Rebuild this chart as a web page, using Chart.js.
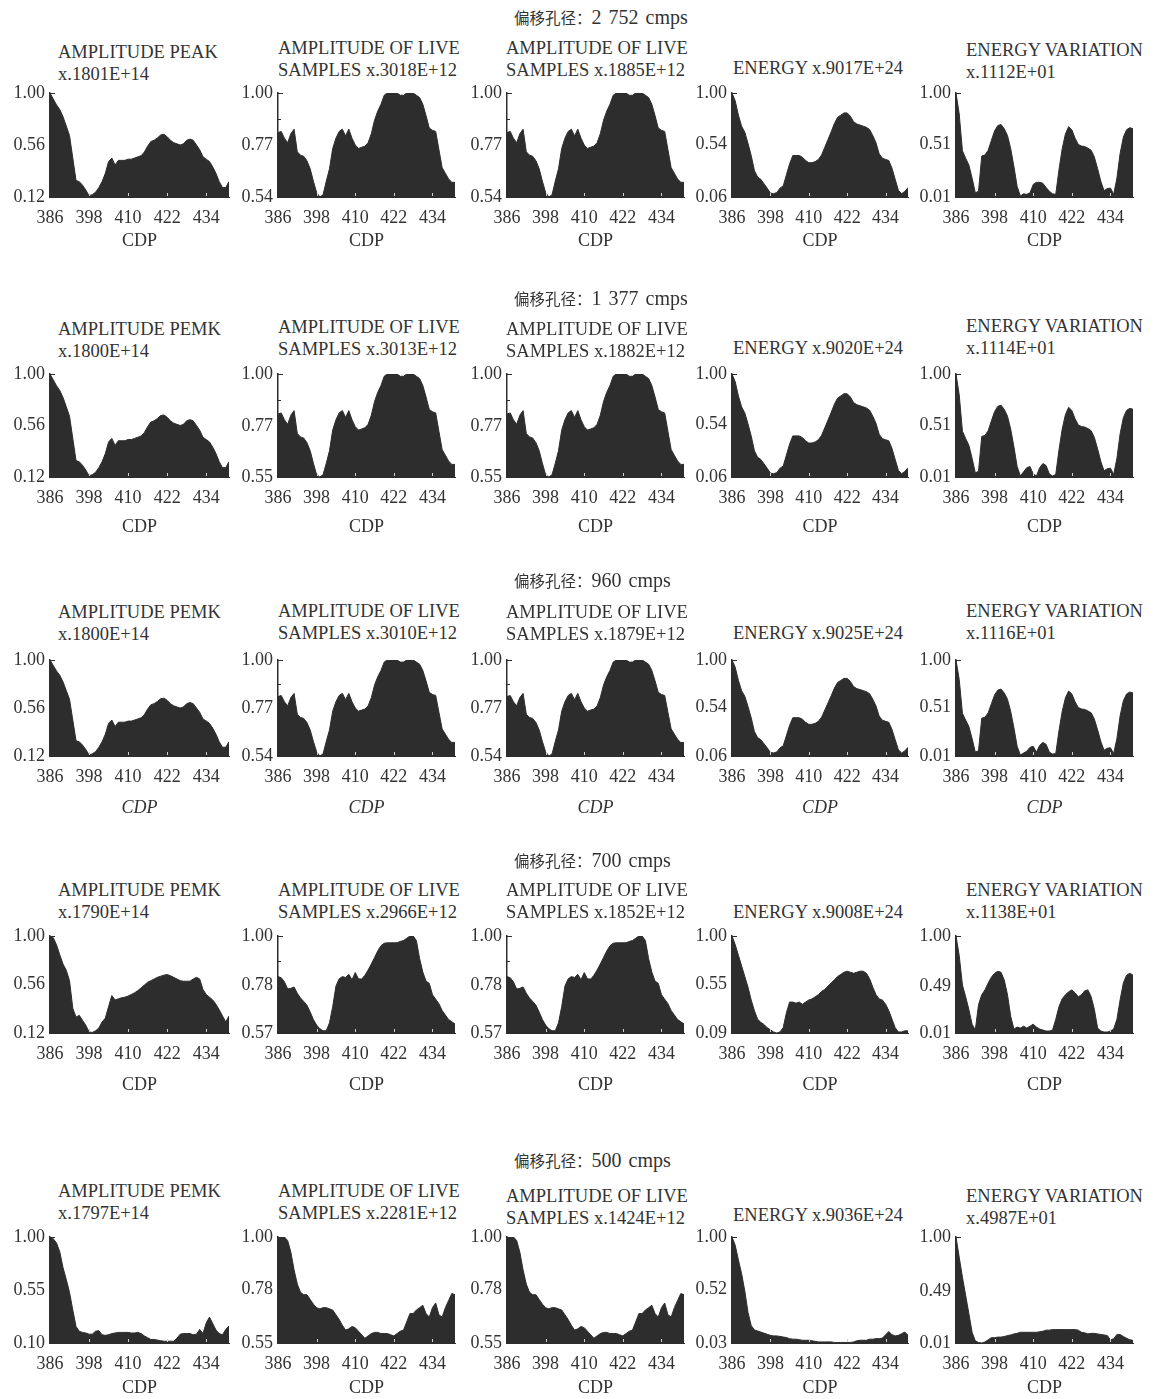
<!DOCTYPE html>
<html>
<head>
<meta charset="utf-8">
<script src="https://cdn.jsdelivr.net/npm/chart.js@4/dist/chart.umd.min.js"></script>
<style>
  html, body { margin: 0; padding: 0; background: #fff; }
  body { width: 1160px; height: 1399px; position: relative; overflow: hidden;
         font-family: "Liberation Serif", "Noto Sans CJK SC", serif; color: #333; }
  .ttl { position: absolute; font-size: 18.5px; line-height: 22px; white-space: pre; }
  .head { position: absolute; font-size: 20px; line-height: 20px; word-spacing: 2px; white-space: pre; }
  .head .cjk { font-family: "Noto Sans CJK SC", sans-serif; font-size: 15.5px; word-spacing: 0; }
  canvas { position: absolute; }
</style>
</head>
<body>
<script>
// CDP positions shared by every panel
const cdp = [386,387,388,389,390,391,392,393,394,395,396,397,398,399,400,401,402,403,404,405,
             406,407,408,409,410,411,412,413,414,415,416,417,418,419,420,421,422,423,424,425,
             426,427,428,429,430,431,432,433,434,435,436,437,438,439,440,441];
const cdpTicks = [386, 398, 410, 422, 434];

// Offset aperture of each row
const rowLabel = '偏移孔径：';
const rowApertures = ['2 752 cmps', '1 377 cmps', '960 cmps', '700 cmps', '500 cmps'];

// Panel titles per row
const titles1 = ['AMPLITUDE PEAK\nx.1801E+14', 'AMPLITUDE OF LIVE\nSAMPLES x.3018E+12', 'AMPLITUDE OF LIVE\nSAMPLES x.1885E+12', 'ENERGY x.9017E+24', 'ENERGY VARIATION\nx.1112E+01'];
const titles2 = ['AMPLITUDE PEMK\nx.1800E+14', 'AMPLITUDE OF LIVE\nSAMPLES x.3013E+12', 'AMPLITUDE OF LIVE\nSAMPLES x.1882E+12', 'ENERGY x.9020E+24', 'ENERGY VARIATION\nx.1114E+01'];
const titles3 = ['AMPLITUDE PEMK\nx.1800E+14', 'AMPLITUDE OF LIVE\nSAMPLES x.3010E+12', 'AMPLITUDE OF LIVE\nSAMPLES x.1879E+12', 'ENERGY x.9025E+24', 'ENERGY VARIATION\nx.1116E+01'];
const titles4 = ['AMPLITUDE PEMK\nx.1790E+14', 'AMPLITUDE OF LIVE\nSAMPLES x.2966E+12', 'AMPLITUDE OF LIVE\nSAMPLES x.1852E+12', 'ENERGY x.9008E+24', 'ENERGY VARIATION\nx.1138E+01'];
const titles5 = ['AMPLITUDE PEMK\nx.1797E+14', 'AMPLITUDE OF LIVE\nSAMPLES x.2281E+12', 'AMPLITUDE OF LIVE\nSAMPLES x.1424E+12', 'ENERGY x.9036E+24', 'ENERGY VARIATION\nx.4987E+01'];

// Normalised axis labels (min, mid, max) per panel
const yTicks1 = [['0.12','0.56','1.00'], ['0.54','0.77','1.00'], ['0.54','0.77','1.00'], ['0.06','0.54','1.00'], ['0.01','0.51','1.00']];
const yTicks2 = [['0.12','0.56','1.00'], ['0.55','0.77','1.00'], ['0.55','0.77','1.00'], ['0.06','0.54','1.00'], ['0.01','0.51','1.00']];
const yTicks3 = [['0.12','0.56','1.00'], ['0.54','0.77','1.00'], ['0.54','0.77','1.00'], ['0.06','0.54','1.00'], ['0.01','0.51','1.00']];
const yTicks4 = [['0.12','0.56','1.00'], ['0.57','0.78','1.00'], ['0.57','0.78','1.00'], ['0.09','0.55','1.00'], ['0.01','0.49','1.00']];
const yTicks5 = [['0.10','0.55','1.00'], ['0.55','0.78','1.00'], ['0.55','0.78','1.00'], ['0.03','0.52','1.00'], ['0.01','0.49','1.00']];

// ---- 2 752 cmps ----
const peak1 = [1.00,0.95,0.90,0.86,0.80,0.72,0.64,0.45,0.26,0.25, 0.22,0.18,0.13,0.14,0.16,0.20,0.25,0.32,0.42,0.45,
               0.39,0.43,0.43,0.43,0.44,0.44,0.45,0.46,0.47,0.50, 0.55,0.59,0.60,0.62,0.645,0.65,0.63,0.60,0.58,0.57,
               0.56,0.57,0.60,0.61,0.60,0.56,0.52,0.46,0.44,0.42, 0.375,0.32,0.25,0.20,0.20,0.25];
const liveA1 = [0.825,0.83,0.80,0.78,0.82,0.84,0.74,0.725,0.72,0.70, 0.665,0.61,0.56,0.54,0.55,0.61,0.665,0.755,0.80,0.83,
                0.84,0.81,0.84,0.80,0.77,0.755,0.76,0.765,0.78,0.82, 0.88,0.92,0.95,0.99,1.00,1.00,1.00,1.00,0.99,0.99,
                1.00,1.00,1.00,0.99,0.98,0.95,0.90,0.845,0.835,0.83, 0.75,0.67,0.645,0.62,0.605,0.605];
const liveB1 = [0.825,0.83,0.80,0.78,0.82,0.84,0.74,0.725,0.72,0.70, 0.665,0.61,0.56,0.54,0.55,0.61,0.665,0.755,0.80,0.83,
                0.84,0.81,0.84,0.80,0.77,0.755,0.76,0.765,0.78,0.82, 0.88,0.92,0.95,0.99,1.00,1.00,1.00,1.00,0.99,0.99,
                1.00,1.00,1.00,0.99,0.98,0.95,0.90,0.845,0.835,0.83, 0.75,0.67,0.645,0.62,0.605,0.605];
const energy1 = [1.00,0.93,0.80,0.70,0.645,0.545,0.435,0.30,0.24,0.22, 0.18,0.14,0.095,0.09,0.10,0.14,0.16,0.26,0.36,0.435,
                 0.435,0.435,0.42,0.39,0.37,0.37,0.38,0.40,0.44,0.51, 0.58,0.65,0.725,0.78,0.80,0.82,0.82,0.79,0.74,0.72,
                 0.71,0.70,0.69,0.67,0.615,0.55,0.45,0.41,0.40,0.39, 0.32,0.22,0.12,0.09,0.11,0.145];
const vary1 = [1.00,0.80,0.45,0.38,0.315,0.19,0.05,0.065,0.40,0.41, 0.455,0.55,0.64,0.69,0.70,0.66,0.595,0.47,0.30,0.11,
               0.02,0.04,0.035,0.05,0.13,0.15,0.15,0.14,0.10,0.065, 0.04,0.035,0.27,0.47,0.61,0.68,0.65,0.57,0.51,0.495,
               0.49,0.475,0.455,0.39,0.28,0.16,0.07,0.09,0.095,0.035, 0.19,0.425,0.58,0.65,0.67,0.66];

// ---- 1 377 cmps ----
const peak2 = [1.00,0.95,0.90,0.86,0.80,0.72,0.64,0.45,0.26,0.25, 0.22,0.18,0.13,0.14,0.16,0.20,0.25,0.32,0.42,0.45,
               0.39,0.43,0.43,0.43,0.44,0.44,0.45,0.46,0.47,0.50, 0.55,0.59,0.60,0.62,0.645,0.65,0.63,0.60,0.58,0.57,
               0.56,0.57,0.60,0.61,0.60,0.56,0.52,0.46,0.44,0.42, 0.375,0.32,0.25,0.20,0.20,0.25];
const liveA2 = [0.825,0.83,0.80,0.78,0.82,0.84,0.74,0.725,0.72,0.70, 0.665,0.61,0.56,0.55,0.56,0.61,0.665,0.755,0.80,0.83,
                0.84,0.81,0.84,0.80,0.77,0.755,0.76,0.765,0.78,0.82, 0.88,0.92,0.95,0.99,1.00,1.00,1.00,1.00,0.99,0.99,
                1.00,1.00,1.00,0.99,0.98,0.95,0.90,0.845,0.835,0.83, 0.75,0.67,0.645,0.62,0.605,0.605];
const liveB2 = [0.825,0.83,0.80,0.78,0.82,0.84,0.74,0.725,0.72,0.70, 0.665,0.61,0.56,0.55,0.56,0.61,0.665,0.755,0.80,0.83,
                0.84,0.81,0.84,0.80,0.77,0.755,0.76,0.765,0.78,0.82, 0.88,0.92,0.95,0.99,1.00,1.00,1.00,1.00,0.99,0.99,
                1.00,1.00,1.00,0.99,0.98,0.95,0.90,0.845,0.835,0.83, 0.75,0.67,0.645,0.62,0.605,0.605];
const energy2 = [1.00,0.93,0.80,0.70,0.645,0.545,0.435,0.30,0.24,0.22, 0.18,0.14,0.095,0.09,0.10,0.14,0.16,0.26,0.36,0.435,
                 0.435,0.435,0.42,0.39,0.37,0.37,0.38,0.40,0.44,0.51, 0.58,0.65,0.725,0.78,0.80,0.82,0.82,0.79,0.74,0.72,
                 0.71,0.70,0.69,0.67,0.615,0.55,0.45,0.41,0.40,0.39, 0.32,0.22,0.12,0.09,0.11,0.145];
const vary2 = [1.00,0.80,0.45,0.38,0.315,0.19,0.05,0.065,0.40,0.41, 0.455,0.55,0.64,0.69,0.70,0.66,0.595,0.47,0.30,0.11,
               0.02,0.06,0.10,0.11,0.04,0.02,0.10,0.14,0.12,0.04, 0.02,0.035,0.27,0.47,0.61,0.68,0.65,0.57,0.51,0.495,
               0.49,0.475,0.455,0.39,0.28,0.16,0.07,0.09,0.095,0.035, 0.19,0.425,0.58,0.65,0.67,0.66];

// ---- 960 cmps ----
const peak3 = [1.00,0.95,0.90,0.86,0.80,0.72,0.64,0.45,0.26,0.25, 0.22,0.18,0.13,0.14,0.16,0.20,0.25,0.32,0.42,0.45,
               0.39,0.43,0.43,0.43,0.44,0.44,0.45,0.46,0.47,0.50, 0.55,0.59,0.60,0.62,0.645,0.65,0.63,0.60,0.58,0.57,
               0.56,0.57,0.60,0.61,0.60,0.56,0.52,0.46,0.44,0.42, 0.375,0.32,0.25,0.20,0.20,0.25];
const liveA3 = [0.825,0.83,0.80,0.78,0.82,0.84,0.74,0.725,0.72,0.70, 0.665,0.61,0.56,0.54,0.55,0.61,0.665,0.755,0.80,0.83,
                0.84,0.81,0.84,0.80,0.77,0.755,0.76,0.765,0.78,0.82, 0.88,0.92,0.95,0.99,1.00,1.00,1.00,1.00,0.99,0.99,
                1.00,1.00,1.00,0.99,0.98,0.95,0.90,0.845,0.835,0.83, 0.75,0.67,0.645,0.62,0.605,0.605];
const liveB3 = [0.825,0.83,0.80,0.78,0.82,0.84,0.74,0.725,0.72,0.70, 0.665,0.61,0.56,0.54,0.55,0.61,0.665,0.755,0.80,0.83,
                0.84,0.81,0.84,0.80,0.77,0.755,0.76,0.765,0.78,0.82, 0.88,0.92,0.95,0.99,1.00,1.00,1.00,1.00,0.99,0.99,
                1.00,1.00,1.00,0.99,0.98,0.95,0.90,0.845,0.835,0.83, 0.75,0.67,0.645,0.62,0.605,0.605];
const energy3 = [1.00,0.93,0.80,0.70,0.645,0.545,0.435,0.30,0.24,0.22, 0.18,0.14,0.095,0.09,0.10,0.14,0.16,0.26,0.36,0.435,
                 0.435,0.435,0.42,0.39,0.37,0.37,0.38,0.40,0.44,0.51, 0.58,0.65,0.725,0.78,0.80,0.82,0.82,0.79,0.74,0.72,
                 0.71,0.70,0.69,0.67,0.615,0.55,0.45,0.41,0.40,0.39, 0.32,0.22,0.12,0.09,0.11,0.145];
const vary3 = [1.00,0.80,0.45,0.38,0.315,0.19,0.05,0.065,0.40,0.41, 0.455,0.55,0.64,0.69,0.70,0.66,0.595,0.47,0.30,0.11,
               0.02,0.04,0.06,0.10,0.11,0.05,0.12,0.15,0.13,0.05, 0.03,0.035,0.27,0.47,0.61,0.68,0.65,0.57,0.51,0.495,
               0.49,0.475,0.455,0.39,0.28,0.16,0.07,0.09,0.095,0.035, 0.19,0.425,0.58,0.65,0.67,0.66];

// ---- 700 cmps ----
const peak4 = [1.00,0.985,0.92,0.83,0.745,0.69,0.595,0.345,0.265,0.28, 0.235,0.19,0.13,0.125,0.14,0.165,0.22,0.255,0.36,0.46,
               0.42,0.43,0.44,0.445,0.455,0.47,0.485,0.505,0.53,0.555, 0.58,0.595,0.61,0.625,0.635,0.645,0.65,0.64,0.625,0.61,
               0.595,0.59,0.59,0.59,0.61,0.625,0.61,0.515,0.47,0.445, 0.42,0.38,0.33,0.275,0.22,0.275];
const liveA4 = [0.82,0.815,0.797,0.765,0.768,0.774,0.746,0.725,0.71,0.693, 0.663,0.63,0.605,0.589,0.58,0.58,0.615,0.687,0.778,0.81,
                0.82,0.816,0.83,0.806,0.838,0.81,0.809,0.826,0.849,0.876, 0.905,0.934,0.957,0.968,0.97,0.97,0.97,0.97,0.976,0.98,
                0.99,1.00,1.00,0.98,0.90,0.84,0.80,0.79,0.74,0.72, 0.70,0.67,0.65,0.63,0.62,0.61];
const liveB4 = [0.82,0.815,0.797,0.765,0.768,0.774,0.746,0.725,0.71,0.693, 0.663,0.63,0.605,0.589,0.58,0.58,0.615,0.687,0.778,0.81,
                0.82,0.816,0.83,0.806,0.838,0.81,0.809,0.826,0.849,0.876, 0.905,0.934,0.957,0.968,0.97,0.97,0.97,0.97,0.976,0.98,
                0.99,1.00,1.00,0.98,0.90,0.84,0.80,0.79,0.74,0.72, 0.70,0.67,0.65,0.63,0.62,0.61];
const energy4 = [1.00,0.92,0.82,0.72,0.62,0.52,0.40,0.30,0.22,0.19, 0.17,0.14,0.12,0.10,0.09,0.10,0.14,0.28,0.38,0.38,
                 0.37,0.38,0.36,0.38,0.40,0.41,0.43,0.45,0.48,0.50, 0.53,0.56,0.59,0.62,0.64,0.66,0.67,0.66,0.65,0.66,
                 0.67,0.67,0.65,0.60,0.52,0.45,0.41,0.40,0.36,0.30, 0.22,0.14,0.10,0.10,0.11,0.11];
const vary4 = [1.00,0.80,0.50,0.38,0.25,0.10,0.04,0.30,0.40,0.45, 0.52,0.58,0.62,0.64,0.63,0.55,0.40,0.18,0.05,0.07,
               0.06,0.08,0.06,0.08,0.10,0.07,0.05,0.04,0.03,0.03, 0.04,0.15,0.28,0.36,0.40,0.43,0.45,0.42,0.38,0.40,
               0.44,0.45,0.38,0.25,0.06,0.03,0.02,0.02,0.03,0.05, 0.15,0.35,0.52,0.60,0.62,0.60];

// ---- 500 cmps ----
const peak5 = [1.00,0.985,0.95,0.875,0.74,0.64,0.53,0.38,0.24,0.20, 0.19,0.185,0.175,0.175,0.20,0.205,0.17,0.165,0.17,0.18,
               0.185,0.19,0.19,0.19,0.19,0.185,0.185,0.19,0.18,0.16, 0.145,0.13,0.13,0.125,0.12,0.115,0.115,0.115,0.115,0.14,
               0.175,0.18,0.18,0.18,0.17,0.175,0.215,0.18,0.27,0.32, 0.265,0.21,0.18,0.17,0.215,0.245];
const liveA5 = [1.00,1.00,1.00,0.985,0.935,0.86,0.80,0.765,0.755,0.755, 0.735,0.715,0.70,0.695,0.70,0.70,0.695,0.69,0.67,0.65,
                0.625,0.605,0.61,0.62,0.615,0.60,0.585,0.57,0.58,0.59, 0.595,0.595,0.59,0.59,0.59,0.585,0.58,0.59,0.60,0.605,
                0.64,0.675,0.675,0.69,0.70,0.71,0.675,0.66,0.70,0.72, 0.67,0.66,0.70,0.73,0.76,0.755];
const liveB5 = [1.00,1.00,1.00,0.985,0.935,0.86,0.80,0.765,0.755,0.755, 0.735,0.715,0.70,0.695,0.70,0.70,0.695,0.69,0.67,0.65,
                0.625,0.605,0.61,0.62,0.615,0.60,0.585,0.57,0.58,0.59, 0.595,0.595,0.59,0.59,0.59,0.585,0.58,0.59,0.60,0.605,
                0.64,0.675,0.675,0.69,0.70,0.71,0.675,0.66,0.70,0.72, 0.67,0.66,0.70,0.73,0.76,0.755];
const energy5 = [1.00,0.925,0.79,0.665,0.505,0.31,0.19,0.15,0.14,0.13, 0.12,0.11,0.10,0.095,0.095,0.09,0.085,0.08,0.07,0.065,
                 0.065,0.06,0.055,0.055,0.055,0.05,0.045,0.04,0.04,0.04, 0.04,0.04,0.035,0.035,0.035,0.035,0.035,0.035,0.04,0.05,
                 0.055,0.055,0.055,0.065,0.065,0.07,0.07,0.075,0.105,0.135, 0.105,0.095,0.10,0.115,0.13,0.10];
const vary5 = [1.00,0.81,0.625,0.455,0.285,0.11,0.03,0.015,0.01,0.02, 0.04,0.06,0.06,0.065,0.065,0.07,0.08,0.085,0.095,0.10,
               0.11,0.11,0.11,0.11,0.11,0.11,0.115,0.12,0.13,0.13, 0.135,0.135,0.135,0.135,0.135,0.135,0.135,0.135,0.13,0.11,
               0.105,0.095,0.10,0.10,0.095,0.09,0.085,0.08,0.04,0.05, 0.09,0.09,0.07,0.055,0.04,0.035];

// ---------------------------------------------------------------------------
const rows = [
  { aperture: rowApertures[0], titles: titles1, yTicks: yTicks1, series: [peak1, liveA1, liveB1, energy1, vary1] },
  { aperture: rowApertures[1], titles: titles2, yTicks: yTicks2, series: [peak2, liveA2, liveB2, energy2, vary2] },
  { aperture: rowApertures[2], titles: titles3, yTicks: yTicks3, series: [peak3, liveA3, liveB3, energy3, vary3] },
  { aperture: rowApertures[3], titles: titles4, yTicks: yTicks4, series: [peak4, liveA4, liveB4, energy4, vary4] },
  { aperture: rowApertures[4], titles: titles5, yTicks: yTicks5, series: [peak5, liveA5, liveB5, energy5, vary5] }
];

// Page layout (pixels)
const INK = '#2d2d2d', TXT = '#333';
const FONT = { family: '"Liberation Serif", "Times New Roman", serif', size: 18, lineHeight: 1.2 };
const PLOT_L = [50, 278, 507, 732, 956];
const PLOT_R = [229, 455, 684, 908, 1133];
const PLOT_T = [93, 374, 660, 936, 1237];
const PLOT_B = [197, 477, 756, 1033, 1343];
const CDP_GAP = [44, 50, 52, 52, 45];
const HEAD_Y = [17, 298, 580, 860, 1160];
const TITLE_Y = [[52, 48, 48, 68, 50], [329, 327, 329, 348, 326], [612, 611, 612, 633, 611],
                 [890, 890, 890, 912, 890], [1191, 1191, 1196, 1215, 1196]];
const TITLE_X = [58, 278, 506, 733, 966];
const Y_W = 56, PAD_R = 16, PAD_T = 18;

// small inward tick marks along the value axis and light notches on the CDP baseline
const tickMarks = {
  id: 'tickMarks',
  afterDatasetsDraw(chart) {
    const { ctx, chartArea: a, scales: { x, y } } = chart;
    ctx.save();
    ctx.lineWidth = 1;
    ctx.strokeStyle = INK;
    y.ticks.forEach((t, i) => {
      const py = Math.round(y.getPixelForValue(t.value)) + 0.5;
      ctx.beginPath();
      ctx.moveTo(a.left, py);
      ctx.lineTo(a.left + (i === y.ticks.length - 1 ? 5 : 3), py);
      ctx.stroke();
    });
    ctx.strokeStyle = '#d0d0d0';
    x.ticks.forEach((t, i) => {
      if (i === 0) return;
      const px = Math.round(x.getPixelForValue(t.value)) + 0.5;
      ctx.beginPath();
      ctx.moveTo(px, a.bottom - 1);
      ctx.lineTo(px, a.bottom - 4);
      ctx.stroke();
    });
    ctx.restore();
  }
};

function addDiv(cls, left, top) {
  const d = document.createElement('div');
  d.className = cls;
  d.style.left = left + 'px';
  d.style.top = top + 'px';
  document.body.appendChild(d);
  return d;
}

rows.forEach((row, r) => {
  const head = addDiv('head', 514, HEAD_Y[r] - 10);
  const cj = document.createElement('span');
  cj.className = 'cjk';
  cj.textContent = rowLabel;
  head.appendChild(cj);
  head.appendChild(document.createTextNode(row.aperture));

  row.series.forEach((values, c) => {
    addDiv('ttl', TITLE_X[c], TITLE_Y[r][c] - 11).textContent = row.titles[c];

    const labels = row.yTicks[c];
    const lo = parseFloat(labels[0]), mid = parseFloat(labels[1]), hi = parseFloat(labels[2]);
    const xAxisH = CDP_GAP[r] + 16;
    const w = Y_W + (PLOT_R[c] - PLOT_L[c]) + PAD_R;
    const h = PAD_T + (PLOT_B[r] - PLOT_T[r]) + xAxisH;

    const cv = document.createElement('canvas');
    cv.width = w; cv.height = h;
    cv.style.left = (PLOT_L[c] - Y_W) + 'px';
    cv.style.top = (PLOT_T[r] - PAD_T) + 'px';
    cv.style.width = w + 'px'; cv.style.height = h + 'px';
    document.body.appendChild(cv);

    new Chart(cv, {
      type: 'line',
      data: {
        datasets: [{
          data: cdp.map((x, i) => ({ x, y: values[i] })),
          fill: 'start',
          backgroundColor: INK,
          borderColor: INK,
          borderWidth: 1,
          pointRadius: 0,
          tension: 0
        }]
      },
      options: {
        responsive: false,
        animation: false,
        devicePixelRatio: 1,
        layout: { padding: { left: 0, right: PAD_R, top: PAD_T, bottom: 0 } },
        plugins: { legend: { display: false }, tooltip: { enabled: false } },
        scales: {
          x: {
            type: 'linear', min: cdp[0], max: cdp[cdp.length - 1],
            afterBuildTicks: s => { s.ticks = cdpTicks.map(v => ({ value: v })); },
            afterFit: s => { s.height = xAxisH; },
            grid: { display: false, drawTicks: false },
            border: { display: true, color: INK, width: 1 },
            ticks: { autoSkip: false, maxRotation: 0, padding: 10, color: TXT, font: FONT,
                     callback: v => String(v) },
            title: { display: true, text: 'CDP', color: TXT,
                     font: Object.assign({}, FONT, { style: r === 2 ? 'italic' : 'normal' }),
                     padding: { top: 0, bottom: 5 } }
          },
          y: {
            type: 'linear', min: lo, max: hi,
            afterBuildTicks: s => {
              s.ticks = [lo, (lo + mid) / 2, mid, (mid + hi) / 2, hi].map(v => ({ value: v }));
            },
            afterFit: s => { s.width = Y_W; },
            grid: { display: false, drawTicks: false },
            border: { display: true, color: INK, width: 1.5 },
            ticks: { autoSkip: false, padding: 5, color: TXT, font: FONT,
                     callback: (v, i) => (i % 2 === 0 ? labels[i / 2] : '') }
          }
        }
      },
      plugins: [tickMarks]
    });
  });
});
</script>
</body>
</html>
